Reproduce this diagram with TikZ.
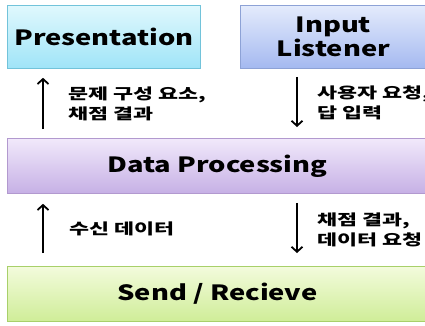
\documentclass[tikz,border=0pt]{standalone}
\usepackage{fontspec}
\setmainfont{Noto Sans CJK KR}[FakeStretch=1.3]
\newfontfamily\lblfont{Noto Sans CJK KR}[FakeStretch=1.45]
\usetikzlibrary{arrows.meta, positioning, shadows}

\definecolor{presTop}{HTML}{E0F8FD}
\definecolor{presBot}{HTML}{9FE4F8}
\definecolor{presLine}{HTML}{72C3DA}
\definecolor{inpTop}{HTML}{E4EBFC}
\definecolor{inpBot}{HTML}{A4B9F0}
\definecolor{inpLine}{HTML}{8DA2D6}
\definecolor{dpTop}{HTML}{F1E9FB}
\definecolor{dpBot}{HTML}{C6B0E5}
\definecolor{dpLine}{HTML}{B299CF}
\definecolor{srTop}{HTML}{F3FBDC}
\definecolor{srBot}{HTML}{CFED98}
\definecolor{srLine}{HTML}{A8D06A}

\begin{document}
\begin{tikzpicture}[x=1pt, y=-1pt]
        % Define block styles
        \tikzstyle{layer} = [rectangle, anchor=north west, inner sep=0pt, line width=0.8pt, align=center, font=\fontsize{21}{24}\selectfont\bfseries, drop shadow={opacity=0.25, shadow xshift=1pt, shadow yshift=-1pt}]
        \tikzstyle{lbl} = [anchor=west, inner sep=0pt, align=left, font=\lblfont\fontsize{15}{20}\selectfont\bfseries]
        \tikzstyle{arrow} = [line width=1.8pt, -{Straight Barb[length=5pt,width=11pt]}]

        \useasboundingbox (0,0) rectangle (425,325);
        \clip (0,0) rectangle (425,325);

        % Layers
        \node (pres) [layer, minimum width=193pt, minimum height=63pt, draw=presLine, top color=presTop, bottom color=presBot] at (7,5) {Presentation};
        \node (inp) [layer, minimum width=186pt, minimum height=63pt, draw=inpLine, top color=inpTop, bottom color=inpBot] at (240,5) {Input\\Listener};
        \node (dp) [layer, minimum width=420pt, minimum height=55pt, draw=dpLine, top color=dpTop, bottom color=dpBot] at (7,138) {Data Processing};
        \node (sr) [layer, minimum width=420pt, minimum height=55pt, draw=srLine, top color=srTop, bottom color=srBot] at (7,266) {Send / Recieve};

        % Labels
        \node (lblpres) [lbl] at (68,104) {문제 구성 요소,\\채점 결과};
        \node (lblinp) [lbl] at (317,103) {사용자 요청,\\답 입력};
        \node (lblrecv) [lbl] at (69,229) {수신 데이터};
        \node (lblsend) [lbl] at (317,230) {채점 결과,\\데이터 요청};

        % Arrows
        \draw [arrow] ([xshift=36pt,yshift=9pt]dp.north west) -- ([xshift=36pt,yshift=-9pt]pres.south west);
        \draw [arrow] ([xshift=57pt,yshift=-8pt]inp.south west) -- ([xshift=290pt,yshift=11pt]dp.north west);
        \draw [arrow] ([xshift=36pt,yshift=13pt]sr.north west) -- ([xshift=36pt,yshift=-10pt]dp.south west);
        \draw [arrow] ([xshift=290pt,yshift=-9pt]dp.south west) -- ([xshift=290pt,yshift=13pt]sr.north west);
\end{tikzpicture}
\end{document}
